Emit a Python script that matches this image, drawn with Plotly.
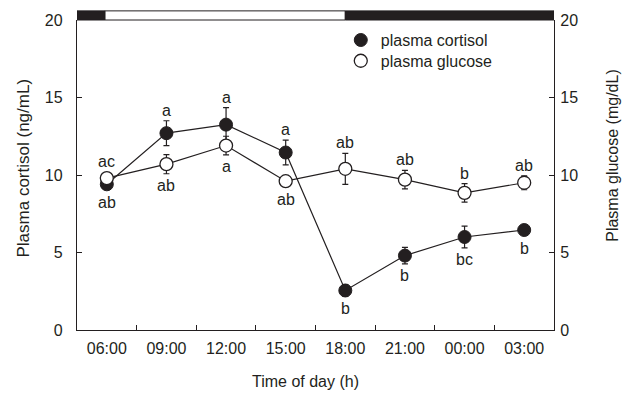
import plotly.graph_objects as go

# ---- data ----
times = ["06:00", "09:00", "12:00", "15:00", "18:00", "21:00", "00:00", "03:00"]
cortisol = [9.4, 12.7, 13.25, 11.45, 2.55, 4.8, 6.0, 6.45]
cortisol_se = [0.25, 0.8, 1.1, 0.8, 0.38, 0.53, 0.7, 0.2]
glucose = [9.8, 10.7, 11.9, 9.6, 10.4, 9.7, 8.85, 9.5]
glucose_se = [0.2, 0.62, 0.6, 0.2, 1.0, 0.6, 0.6, 0.45]
cortisol_letters = ["ab", "a", "a", "a", "b", "b", "bc", "b"]
glucose_letters = ["ac", "ab", "a", "ab", "ab", "ab", "b", "ab"]
cortisol_label_side = ["below", "above", "above", "above", "below", "below", "below", "below"]
glucose_label_side = ["above", "below", "below", "below", "above", "above", "above", "above"]
lights_on, lights_off = "06:00", "18:00"
y_ticks = [0, 5, 10, 15, 20]

INK = "#231f20"
FONT = "Liberation Sans, Arial, Helvetica, sans-serif"

fig = go.Figure()

# connecting lines
fig.add_trace(go.Scatter(x=times, y=cortisol, mode="lines", line=dict(color=INK, width=1.2),
                         showlegend=False, hoverinfo="skip", yaxis="y"))
fig.add_trace(go.Scatter(x=times, y=cortisol, mode="markers", name="plasma cortisol",
                         marker=dict(symbol="circle", size=13, color=INK, line=dict(color=INK, width=1)),
                         error_y=dict(type="data", array=cortisol_se, color=INK, thickness=1.2, width=3),
                         yaxis="y", legend="legend"))
fig.add_trace(go.Scatter(x=times, y=glucose, mode="lines", line=dict(color=INK, width=1.2),
                         showlegend=False, hoverinfo="skip", yaxis="y2"))
fig.add_trace(go.Scatter(x=times, y=glucose, mode="markers", name="plasma glucose",
                         marker=dict(symbol="circle", size=13, color="white", line=dict(color=INK, width=1.3)),
                         error_y=dict(type="data", array=glucose_se, color=INK, thickness=1.2, width=3),
                         yaxis="y2", legend="legend2"))

# significance letters
R_UNITS = 0.42  # marker radius in data units
def add_letters(vals, errs, letters, sides, yref):
    for t, v, e, l, s in zip(times, vals, errs, letters, sides):
        sgn = 1 if s == "above" else -1
        fig.add_annotation(x=t, y=v + sgn * max(e, R_UNITS), xref="x", yref=yref, text=l,
                           showarrow=False, yanchor="middle", yshift=10.5 if sgn > 0 else -12,
                           font=dict(family=FONT, size=16, color=INK))

add_letters(cortisol, cortisol_se, cortisol_letters, cortisol_label_side, "y")
add_letters(glucose, glucose_se, glucose_letters, glucose_label_side, "y2")

# light/dark bar above plot
i_on, i_off = times.index(lights_on), times.index(lights_off)
bar_top = 1 + 9.2 / 313
segments = [(-0.5, i_on - 0.03, INK), (i_on - 0.03, i_off, "white"), (i_off, len(times) - 0.5, INK)]
for x0, x1, c in segments:
    fig.add_shape(type="rect", xref="x", yref="paper", x0=x0, x1=x1, y0=1, y1=bar_top,
                  fillcolor=c, line=dict(color=INK, width=1))

# axis titles
fig.add_annotation(text="Plasma cortisol (ng/mL)", xref="paper", yref="paper", x=-0.1132, y=0.521,
                   textangle=-90, showarrow=False, xanchor="center", yanchor="middle",
                   font=dict(family=FONT, size=17, color=INK))
fig.add_annotation(text="Plasma glucose (mg/dL)", xref="paper", yref="paper", x=1.1237, y=0.562,
                   textangle=-90, showarrow=False, xanchor="center", yanchor="middle",
                   font=dict(family=FONT, size=16, color=INK))
fig.add_annotation(text="Time of day (h)", xref="paper", yref="paper", x=0.478, y=-0.166,
                   showarrow=False, xanchor="center", yanchor="middle",
                   font=dict(family=FONT, size=16, color=INK))

axis_common = dict(showline=True, linecolor=INK, linewidth=1.3, ticks="inside", ticklen=5,
                   tickwidth=1.2, tickcolor=INK, showgrid=False, zeroline=False,
                   tickfont=dict(family=FONT, size=16, color=INK))

legend_common = dict(xanchor="left", yanchor="top", bgcolor="rgba(0,0,0,0)",
                     font=dict(family=FONT, size=16, color=INK), itemwidth=30)

fig.update_layout(
    width=622, height=395,
    margin=dict(l=77, r=68, t=17, b=65),
    paper_bgcolor="white", plot_bgcolor="white",
    xaxis=dict(type="category", range=[-0.5, len(times) - 0.5], tickson="boundaries",
               categoryorder="array", categoryarray=times, ticklabelstandoff=4, **axis_common),
    yaxis=dict(range=[0, 20], tickvals=y_ticks, ticklabelstandoff=10, **axis_common),
    yaxis2=dict(range=[0, 20], tickvals=y_ticks, overlaying="y", side="right",
                ticklabelstandoff=2, **axis_common),
    legend=dict(x=0.553, y=0.990, **legend_common),
    legend2=dict(x=0.553, y=0.923, **legend_common),
    showlegend=True,
)

fig.write_html("out.html")
